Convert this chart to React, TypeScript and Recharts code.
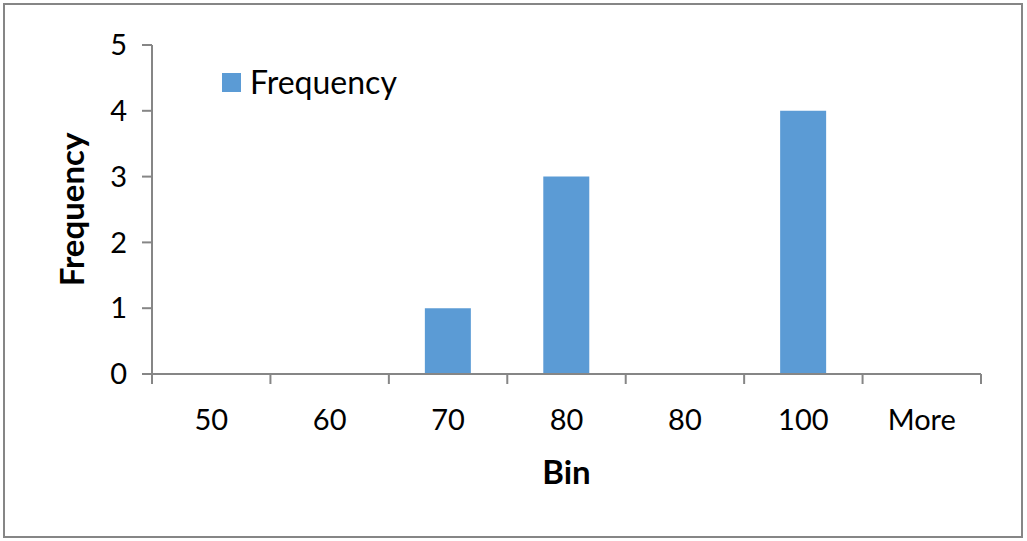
import React from "react";
import { BarChart, Bar, XAxis, YAxis } from "recharts";

const bins = ["50", "60", "70", "80", "80", "100", "More"];
const frequency = [0, 0, 1, 3, 0, 4, 0];
const yTicks = [0, 1, 2, 3, 4, 5];

const data = bins.map((bin, i) => ({ idx: i, bin, frequency: frequency[i] }));

const FONT = "Lato, 'Open Sans', sans-serif";
const AXIS = "#868686";
const BAR = "#5B9BD5";
const TICK_SIZE = 10;
const TICK_MARGIN = 25;

// Excel-style x ticks: marks sit between categories, labels in the middle
function BinTick(props: any) {
  const { x, y, payload, index, visibleTicksCount } = props;
  const off = payload.offset || 0;
  const y2 = y - TICK_MARGIN;
  const y1 = y2 - TICK_SIZE;
  return (
    <g>
      <line x1={x - off} y1={y1} x2={x - off} y2={y2} stroke={AXIS} strokeWidth={2} />
      {index === visibleTicksCount - 1 && (
        <line x1={x + off} y1={y1} x2={x + off} y2={y2} stroke={AXIS} strokeWidth={2} />
      )}
      <text x={x} y={y} dy="0.71em" textAnchor="middle" fontSize={29} fontFamily={FONT} fill="#000">
        {bins[payload.value]}
      </text>
    </g>
  );
}

export default function App() {
  return (
    <div style={{ position: "relative", width: 1027, height: 541, background: "#fff" }}>
      <style>{`body{margin:0}`}</style>
      <div
        style={{
          position: "absolute", left: 3, top: 3, width: 1020, height: 535,
          border: `2px solid ${AXIS}`, boxSizing: "border-box",
        }}
      />
      <BarChart
        width={1027}
        height={541}
        data={data}
        margin={{ top: 45, right: 46, bottom: 0, left: 0 }}
        style={{ position: "absolute", left: 0, top: 0 }}
      >
        <XAxis
          dataKey="idx"
          type="category"
          height={167}
          axisLine={{ stroke: AXIS, strokeWidth: 2 }}
          tickLine={false}
          tickSize={TICK_SIZE}
          tickMargin={TICK_MARGIN}
          interval={0}
          tick={<BinTick />}
          label={{
            value: "Bin", position: "insideBottom", offset: 57,
            style: { fontFamily: FONT, fontSize: 33, fontWeight: 700, fill: "#000" },
          }}
        />
        <YAxis
          domain={[0, 5]}
          ticks={yTicks}
          width={152}
          axisLine={{ stroke: AXIS, strokeWidth: 2 }}
          tickLine={{ stroke: AXIS, strokeWidth: 2 }}
          tickSize={TICK_SIZE}
          tickMargin={15}
          tick={{ fontFamily: FONT, fontSize: 29, fill: "#000" }}
          label={{
            value: "Frequency", position: "center", angle: -90, dx: -4,
            style: { fontFamily: FONT, fontSize: 33, fontWeight: 700, fill: "#000", textAnchor: "middle" },
          }}
        />
        <Bar dataKey="frequency" name="Frequency" fill={BAR} barSize={46} isAnimationActive={false} />
      </BarChart>
      {/* legend sits inside the plot, so keep it out of the chart's layout */}
      <div
        style={{
          position: "absolute", left: 222, top: 63, display: "flex", alignItems: "center",
          fontFamily: FONT, fontSize: 32, color: "#000", lineHeight: "38px",
        }}
      >
        <div style={{ width: 19, height: 19, background: BAR, marginRight: 9 }} />
        <span>Frequency</span>
      </div>
    </div>
  );
}
